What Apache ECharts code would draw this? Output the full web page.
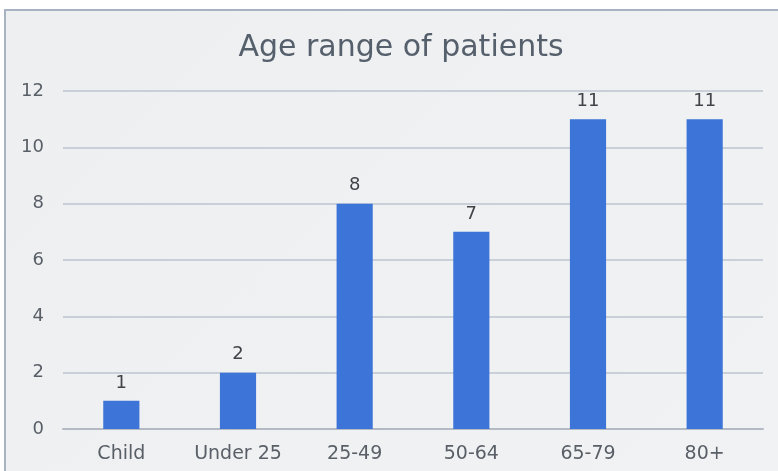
<!DOCTYPE html>
<html>
<head>
<meta charset="utf-8">
<script src="https://cdn.jsdelivr.net/npm/echarts@6/dist/echarts.min.js"></script>
<style>
html,body{margin:0;padding:0;background:#fff;overflow:hidden;}
#frame{position:absolute;left:4px;top:9px;width:800px;height:500px;
  border-left:2px solid #a7b3c3;border-top:2px solid #a7b3c3;
  background:linear-gradient(135deg,#edeff1,#f1f2f4);}
#chart{position:absolute;left:0;top:0;width:778px;height:471px;}
</style>
</head>
<body>
<div id="frame"></div>
<div id="chart"></div>
<script>
const titleText = "Age range of patients";
const categories = ["Child", "Under 25", "25-49", "50-64", "65-79", "80+"];
const patients = [1, 2, 8, 7, 11, 11];
const yTicks = { min: 0, max: 12, interval: 2 };

const chart = echarts.init(document.getElementById('chart'));
chart.setOption({
  backgroundColor: 'transparent',
  animation: false,
  title: {
    text: titleText,
    left: 396, top: 28, textAlign: 'center',
    textStyle: { fontFamily: 'DejaVu Sans', fontSize: 30, fontWeight: 'normal', color: '#56606c' }
  },
  grid: { left: 63, right: 15, top: 91, bottom: 42 },
  xAxis: {
    type: 'category',
    data: categories,
    axisTick: { show: false },
    axisLine: { lineStyle: { color: '#b3bac4', width: 2 } },
    axisLabel: { margin: 16, fontFamily: 'DejaVu Sans', fontSize: 19, color: '#595f66' }
  },
  yAxis: {
    type: 'value',
    min: yTicks.min, max: yTicks.max, interval: yTicks.interval,
    axisLine: { show: false },
    axisTick: { show: false },
    splitLine: { lineStyle: { color: '#bcc4cf', width: 1.5 } },
    axisLabel: { margin: 19, fontFamily: 'DejaVu Sans', fontSize: 18, color: '#595f66' }
  },
  series: [{
    type: 'bar',
    data: patients,
    barWidth: '31%',
    itemStyle: { color: '#3d74d8' },
    label: {
      show: true, position: 'top', distance: 9,
      fontFamily: 'DejaVu Sans', fontSize: 18, color: '#404448'
    }
  }]
});
</script>
</body>
</html>
